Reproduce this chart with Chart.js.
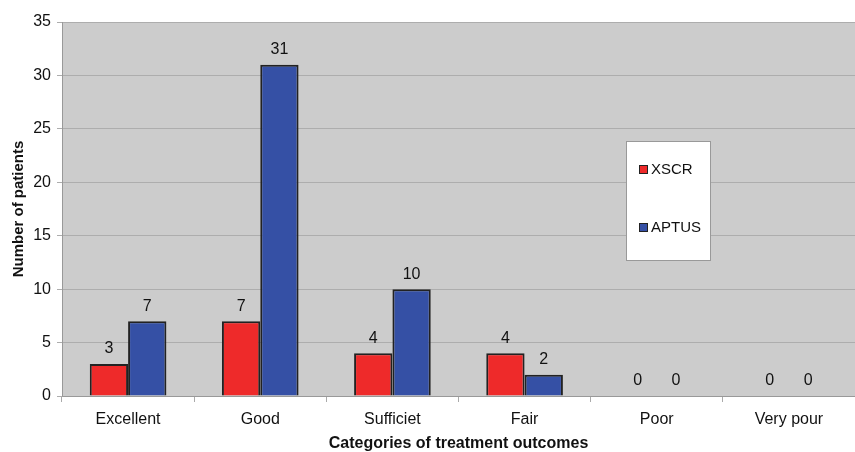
<!DOCTYPE html>
<html>
<head>
<meta charset="utf-8">
<script src="https://cdn.jsdelivr.net/npm/chart.js@4"></script>
<style>
  html, body { margin: 0; padding: 0; background: #fff; }
  #wrap { width: 855px; height: 452px; }
</style>
</head>
<body>
<div id="wrap"><canvas id="outcomeChart" width="855" height="452"></canvas></div>
<script>
  const categories = ['Excellent', 'Good', 'Sufficiet', 'Fair', 'Poor', 'Very pour'];
  const xscrValues = [3, 7, 4, 4, 0, 0];
  const aptusValues = [7, 31, 10, 2, 0, 0];
  const yTicks = [0, 5, 10, 15, 20, 25, 30, 35];
  const xTitle = 'Categories of treatment outcomes';

  const FONT = 'Liberation Sans, Arial, sans-serif';

  // value labels above each bar
  const valueLabels = {
    id: 'valueLabels',
    afterDatasetsDraw(chart) {
      const ctx = chart.ctx;
      ctx.save();
      ctx.font = '16px ' + FONT;
      ctx.fillStyle = '#111';
      ctx.textAlign = 'center';
      ctx.textBaseline = 'bottom';
      chart.data.datasets.forEach((ds, i) => {
        chart.getDatasetMeta(i).data.forEach((bar, j) => {
          ctx.fillText(ds.data[j], bar.x, bar.y - 7);
        });
      });
      ctx.restore();
    }
  };

  // boxed legend inside the plot area, plus the x axis title near the bottom edge
  const boxLegend = {
    id: 'boxLegend',
    afterDraw(chart) {
      const ctx = chart.ctx;
      const x = 626, y = 141, w = 84, h = 119;
      ctx.save();
      ctx.fillStyle = '#fff';
      ctx.fillRect(x, y, w, h);
      ctx.strokeStyle = '#999';
      ctx.lineWidth = 1;
      ctx.strokeRect(x + 0.5, y + 0.5, w, h);
      ctx.font = '15px ' + FONT;
      ctx.textBaseline = 'middle';
      ctx.textAlign = 'left';
      const rows = [y + 29, y + 87];
      chart.data.datasets.forEach((ds, i) => {
        ctx.fillStyle = ds.backgroundColor;
        ctx.fillRect(x + 13, rows[i] - 5, 9, 9);
        ctx.strokeStyle = '#222';
        ctx.strokeRect(x + 13.5, rows[i] - 4.5, 8, 8);
        ctx.fillStyle = '#111';
        ctx.fillText(ds.label, x + 25, rows[i]);
      });

      ctx.font = 'bold 16px ' + FONT;
      ctx.textAlign = 'center';
      ctx.fillText(xTitle, (chart.chartArea.left + chart.chartArea.right) / 2, 444);
      ctx.restore();
    }
  };

  const plotBackground = {
    id: 'plotBackground',
    beforeDraw(chart) {
      const a = chart.chartArea;
      chart.ctx.save();
      chart.ctx.fillStyle = '#cccccc';
      chart.ctx.fillRect(a.left, a.top, a.right - a.left, a.bottom - a.top);
      chart.ctx.restore();
    }
  };

  const ctx = document.getElementById('outcomeChart').getContext('2d');
  const outcomeChart = new Chart(ctx, {
    type: 'bar',
    data: {
      labels: categories,
      datasets: [{
        label: 'XSCR',
        data: xscrValues,
        backgroundColor: '#ee2a2a',
        borderColor: '#222',
        borderWidth: 2,
        categoryPercentage: 0.58,
        barPercentage: 1
      }, {
        label: 'APTUS',
        data: aptusValues,
        backgroundColor: '#3550a5',
        borderColor: '#222',
        borderWidth: 2,
        categoryPercentage: 0.58,
        barPercentage: 1
      }]
    },
    options: {
      responsive: false,
      animation: false,
      layout: { padding: { top: 22, right: 0, left: 0, bottom: 0 } },
      plugins: {
        legend: { display: false },
        tooltip: { enabled: false }
      },
      scales: {
        x: {
          offset: true,
          afterFit: s => { s.height = 56; },
          grid: { display: true, drawOnChartArea: false, offset: true, tickLength: 6, color: '#aaa' },
          border: { color: '#999' },
          ticks: { color: '#111', font: { family: FONT, size: 16 }, padding: 8 }
        },
        y: {
          min: 0,
          max: 35,
          afterFit: s => { s.width = 62; },
          afterBuildTicks: s => { s.ticks = yTicks.map(v => ({ value: v })); },
          grid: { color: '#adadad', tickLength: 5 },
          border: { color: '#999' },
          ticks: { color: '#111', font: { family: FONT, size: 16 }, padding: 6 },
          title: { display: true, text: 'Number of patients', color: '#111',
                   font: { family: FONT, size: 15, weight: 'bold' }, padding: { top: 10, bottom: 2 } }
        }
      }
    },
    plugins: [plotBackground, valueLabels, boxLegend]
  });
</script>
</body>
</html>
